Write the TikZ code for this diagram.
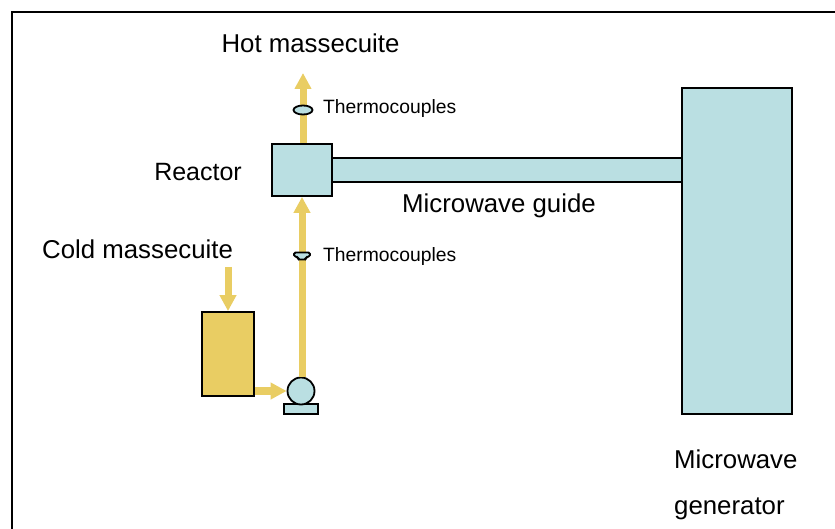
\documentclass[tikz,border=0pt]{standalone}
\usepackage{fontspec}
\setmainfont{Liberation Sans}
\usepackage{tikz}
\usetikzlibrary{arrows.meta,shapes.geometric}
\definecolor{unitblue}{HTML}{BADFE2}
\definecolor{syrup}{HTML}{E9CD63}
\tikzset{
  unit/.style={draw=black,line width=1.8pt,fill=unitblue,inner sep=0pt},
  flow/.style={draw=syrup,line width=7pt,-{Triangle[length=16pt,width=16pt,fill=syrup]}},
  biglabel/.style={inner sep=0pt,font=\fontsize{25.8}{30}\selectfont},
  smalllabel/.style={inner sep=0pt,font=\fontsize{19.3}{23}\selectfont}
}

\begin{document}
\begin{tikzpicture}[x=1pt,y=-1pt]
   \useasboundingbox (0,0) rectangle (835,529);
   % frame, runs off the page
   \draw[line width=2pt] (12,529) -- (12,12) -- (835,12);

   % vessels
   \node[unit,minimum width=110pt,minimum height=326pt] (generator) at (737,251) {};
   \node[unit,minimum width=350pt,minimum height=24pt] (guide) at (507,170) {};
   \node[unit,minimum width=60pt,minimum height=52pt] (reactor) at (302,170) {};
   \node[unit,fill=syrup,minimum width=52pt,minimum height=84pt] (tank) at (228,354) {};

   % pump
   \node[unit,minimum width=34pt,minimum height=10pt] (pumpbase) at (301,409) {};
   \coordinate (coldin) at (228,267);
   \coordinate (hotout) at (303,73);
   \node[unit,circle,minimum size=27pt] (pump) at (301,391) {};

   % massecuite flow
   \draw[flow] (coldin) -- (tank.north);
   \draw[flow,line width=8pt] (tank.east |- pump.west) -- (pump.west);
   \draw[flow] (reactor.south |- pump.north) -- (reactor.south);
   \draw[flow] (hotout |- reactor.north) -- (hotout);

   % sensors
   \node[unit,ellipse,minimum width=19pt,minimum height=9pt] (hotsensor) at (303,110) {};
   \coordinate (coldsensor) at (302,256);
   \draw[unit,rounded corners=1.5pt,shift={(coldsensor)}]
     (-8,-3.5) -- (8,-3.5) -- (8,0.5) -- (4,1) -- (4,3.5) -- (-4,3.5) -- (-4,1) -- (-8,0.5) -- cycle;

   % labels
   \node[biglabel] (hotlabel) at (310.5,43) {Hot massecuite};
   \node[biglabel,anchor=east,font=\fontsize{25}{30}\selectfont] (reactorlabel) at (242,172) {Reactor};
   \node[biglabel,anchor=west] (guidelabel) at (402,206) {Microwave guide};
   \node[biglabel,anchor=west] (coldlabel) at (42,249) {Cold massecuite};
   \node[biglabel,anchor=west] (genlabelone) at (674,459) {Microwave};
   \node[biglabel,anchor=west] (genlabeltwo) at (674,509) {generator};
   \node[smalllabel,anchor=west] (hotsensorlabel) at (323,109) {Thermocouples};
   \node[smalllabel,anchor=west] (coldsensorlabel) at (323,257) {Thermocouples};
\end{tikzpicture}
\end{document}
